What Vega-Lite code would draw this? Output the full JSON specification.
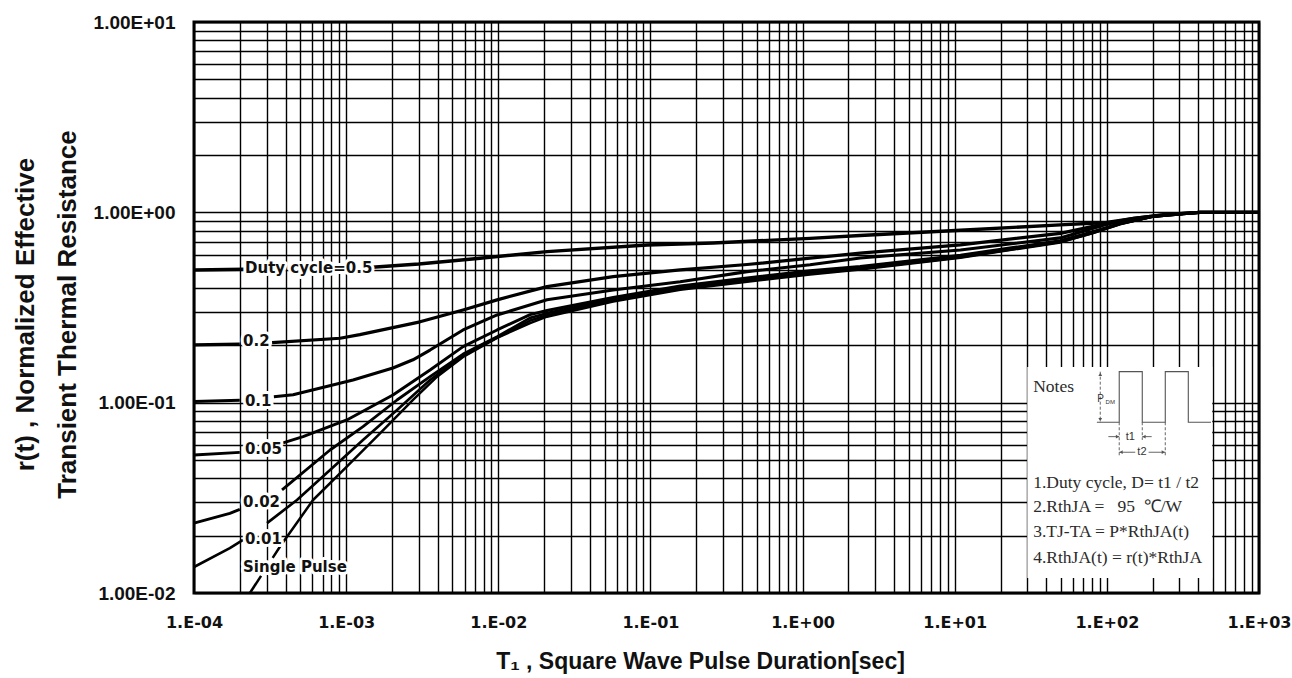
{
  "$schema": "https://vega.github.io/schema/vega-lite/v6.json",
  "width": 1065,
  "height": 571,
  "autosize": {"type": "none"},
  "padding": {"left": 194, "top": 22, "right": 33, "bottom": 85},
  "background": "white",
  "config": {"view": {"stroke": "black", "strokeWidth": 3}},
  "datasets": {
    "curves": [
      {"c": "0.5", "s": "0.5a", "t": 0.0001, "r": 0.498},
      {"c": "0.5", "s": "0.5a", "t": 0.000216, "r": 0.502},
      {"c": "0.5", "s": "0.5b", "t": 0.00148, "r": 0.515},
      {"c": "0.5", "s": "0.5b", "t": 0.003, "r": 0.535},
      {"c": "0.5", "s": "0.5b", "t": 0.00759, "r": 0.574},
      {"c": "0.5", "s": "0.5b", "t": 0.0209, "r": 0.622},
      {"c": "0.5", "s": "0.5b", "t": 0.0951, "r": 0.674},
      {"c": "0.5", "s": "0.5b", "t": 0.258, "r": 0.69},
      {"c": "0.5", "s": "0.5b", "t": 1.12, "r": 0.73},
      {"c": "0.5", "s": "0.5b", "t": 2.39, "r": 0.755},
      {"c": "0.5", "s": "0.5b", "t": 10.9, "r": 0.805},
      {"c": "0.5", "s": "0.5b", "t": 49.4, "r": 0.859},
      {"c": "0.5", "s": "0.5b", "t": 100, "r": 0.885},
      {"c": "0.5", "s": "0.5b", "t": 150, "r": 0.93},
      {"c": "0.5", "s": "0.5b", "t": 250, "r": 0.975},
      {"c": "0.5", "s": "0.5b", "t": 411, "r": 1.0},
      {"c": "0.5", "s": "0.5b", "t": 1000, "r": 1.0},

      {"c": "0.2", "s": "0.2a", "t": 0.0001, "r": 0.201},
      {"c": "0.2", "s": "0.2a", "t": 0.0002, "r": 0.203},
      {"c": "0.2", "s": "0.2b", "t": 0.000326, "r": 0.207},
      {"c": "0.2", "s": "0.2b", "t": 0.000912, "r": 0.218},
      {"c": "0.2", "s": "0.2b", "t": 0.00123, "r": 0.228},
      {"c": "0.2", "s": "0.2b", "t": 0.00306, "r": 0.266},
      {"c": "0.2", "s": "0.2b", "t": 0.00587, "r": 0.307},
      {"c": "0.2", "s": "0.2b", "t": 0.00982, "r": 0.347},
      {"c": "0.2", "s": "0.2b", "t": 0.0209, "r": 0.407},
      {"c": "0.2", "s": "0.2b", "t": 0.0569, "r": 0.459},
      {"c": "0.2", "s": "0.2b", "t": 0.157, "r": 0.498},
      {"c": "0.2", "s": "0.2b", "t": 0.432, "r": 0.532},
      {"c": "0.2", "s": "0.2b", "t": 1.12, "r": 0.574},
      {"c": "0.2", "s": "0.2b", "t": 2.39, "r": 0.61},
      {"c": "0.2", "s": "0.2b", "t": 10.9, "r": 0.674},
      {"c": "0.2", "s": "0.2b", "t": 49.4, "r": 0.776},
      {"c": "0.2", "s": "0.2b", "t": 100, "r": 0.875},
      {"c": "0.2", "s": "0.2b", "t": 150, "r": 0.93},
      {"c": "0.2", "s": "0.2b", "t": 250, "r": 0.975},
      {"c": "0.2", "s": "0.2b", "t": 411, "r": 1.0},
      {"c": "0.2", "s": "0.2b", "t": 1000, "r": 1.0},

      {"c": "0.1", "s": "0.1a", "t": 0.0001, "r": 0.1015},
      {"c": "0.1", "s": "0.1a", "t": 0.0002, "r": 0.103},
      {"c": "0.1", "s": "0.1b", "t": 0.000335, "r": 0.1075},
      {"c": "0.1", "s": "0.1b", "t": 0.000448, "r": 0.11},
      {"c": "0.1", "s": "0.1b", "t": 0.00111, "r": 0.1316},
      {"c": "0.1", "s": "0.1b", "t": 0.00203, "r": 0.152},
      {"c": "0.1", "s": "0.1b", "t": 0.00275, "r": 0.168},
      {"c": "0.1", "s": "0.1b", "t": 0.00356, "r": 0.189},
      {"c": "0.1", "s": "0.1b", "t": 0.00587, "r": 0.241},
      {"c": "0.1", "s": "0.1b", "t": 0.00982, "r": 0.289},
      {"c": "0.1", "s": "0.1b", "t": 0.0209, "r": 0.347},
      {"c": "0.1", "s": "0.1b", "t": 0.0569, "r": 0.391},
      {"c": "0.1", "s": "0.1b", "t": 0.157, "r": 0.432},
      {"c": "0.1", "s": "0.1b", "t": 0.432, "r": 0.488},
      {"c": "0.1", "s": "0.1b", "t": 1.12, "r": 0.53},
      {"c": "0.1", "s": "0.1b", "t": 2.39, "r": 0.576},
      {"c": "0.1", "s": "0.1b", "t": 10.9, "r": 0.634},
      {"c": "0.1", "s": "0.1b", "t": 49.4, "r": 0.734},
      {"c": "0.1", "s": "0.1b", "t": 100, "r": 0.865},
      {"c": "0.1", "s": "0.1b", "t": 150, "r": 0.925},
      {"c": "0.1", "s": "0.1b", "t": 250, "r": 0.975},
      {"c": "0.1", "s": "0.1b", "t": 411, "r": 1.0},
      {"c": "0.1", "s": "0.1b", "t": 1000, "r": 1.0},

      {"c": "0.05", "s": "0.05a", "t": 0.0001, "r": 0.0531},
      {"c": "0.05", "s": "0.05a", "t": 0.0002, "r": 0.0548},
      {"c": "0.05", "s": "0.05b", "t": 0.000385, "r": 0.0615},
      {"c": "0.05", "s": "0.05b", "t": 0.000521, "r": 0.0663},
      {"c": "0.05", "s": "0.05b", "t": 0.00101, "r": 0.0811},
      {"c": "0.05", "s": "0.05b", "t": 0.00203, "r": 0.1098},
      {"c": "0.05", "s": "0.05b", "t": 0.00356, "r": 0.1485},
      {"c": "0.05", "s": "0.05b", "t": 0.00587, "r": 0.197},
      {"c": "0.05", "s": "0.05b", "t": 0.00982, "r": 0.241},
      {"c": "0.05", "s": "0.05b", "t": 0.0162, "r": 0.29},
      {"c": "0.05", "s": "0.05b", "t": 0.0209, "r": 0.305},
      {"c": "0.05", "s": "0.05b", "t": 0.0569, "r": 0.357},
      {"c": "0.05", "s": "0.05b", "t": 0.157, "r": 0.41},
      {"c": "0.05", "s": "0.05b", "t": 0.432, "r": 0.452},
      {"c": "0.05", "s": "0.05b", "t": 1.12, "r": 0.493},
      {"c": "0.05", "s": "0.05b", "t": 2.39, "r": 0.52},
      {"c": "0.05", "s": "0.05b", "t": 10.9, "r": 0.595},
      {"c": "0.05", "s": "0.05b", "t": 49.4, "r": 0.71},
      {"c": "0.05", "s": "0.05b", "t": 80, "r": 0.79},
      {"c": "0.05", "s": "0.05b", "t": 122, "r": 0.875},
      {"c": "0.05", "s": "0.05b", "t": 200, "r": 0.95},
      {"c": "0.05", "s": "0.05b", "t": 411, "r": 1.0},
      {"c": "0.05", "s": "0.05b", "t": 1000, "r": 1.0},

      {"c": "0.02", "s": "0.02a", "t": 0.0001, "r": 0.0233},
      {"c": "0.02", "s": "0.02a", "t": 0.000172, "r": 0.0262},
      {"c": "0.02", "s": "0.02a", "t": 0.0002, "r": 0.0275},
      {"c": "0.02", "s": "0.02b", "t": 0.000379, "r": 0.0348},
      {"c": "0.02", "s": "0.02b", "t": 0.000784, "r": 0.0564},
      {"c": "0.02", "s": "0.02b", "t": 0.00129, "r": 0.0748},
      {"c": "0.02", "s": "0.02b", "t": 0.00216, "r": 0.1033},
      {"c": "0.02", "s": "0.02b", "t": 0.00356, "r": 0.137},
      {"c": "0.02", "s": "0.02b", "t": 0.00587, "r": 0.18},
      {"c": "0.02", "s": "0.02b", "t": 0.00982, "r": 0.222},
      {"c": "0.02", "s": "0.02b", "t": 0.0162, "r": 0.279},
      {"c": "0.02", "s": "0.02b", "t": 0.0209, "r": 0.295},
      {"c": "0.02", "s": "0.02b", "t": 0.0569, "r": 0.35},
      {"c": "0.02", "s": "0.02b", "t": 0.157, "r": 0.402},
      {"c": "0.02", "s": "0.02b", "t": 0.432, "r": 0.443},
      {"c": "0.02", "s": "0.02b", "t": 1.12, "r": 0.484},
      {"c": "0.02", "s": "0.02b", "t": 2.39, "r": 0.511},
      {"c": "0.02", "s": "0.02b", "t": 10.9, "r": 0.588},
      {"c": "0.02", "s": "0.02b", "t": 49.4, "r": 0.703},
      {"c": "0.02", "s": "0.02b", "t": 80, "r": 0.783},
      {"c": "0.02", "s": "0.02b", "t": 122, "r": 0.872},
      {"c": "0.02", "s": "0.02b", "t": 200, "r": 0.95},
      {"c": "0.02", "s": "0.02b", "t": 411, "r": 1.0},
      {"c": "0.02", "s": "0.02b", "t": 1000, "r": 1.0},

      {"c": "0.01", "s": "0.01a", "t": 0.0001, "r": 0.0137},
      {"c": "0.01", "s": "0.01a", "t": 0.000172, "r": 0.0172},
      {"c": "0.01", "s": "0.01a", "t": 0.00021, "r": 0.019},
      {"c": "0.01", "s": "0.01b", "t": 0.000302, "r": 0.0233},
      {"c": "0.01", "s": "0.01b", "t": 0.000475, "r": 0.0308},
      {"c": "0.01", "s": "0.01b", "t": 0.000784, "r": 0.0443},
      {"c": "0.01", "s": "0.01b", "t": 0.00129, "r": 0.0637},
      {"c": "0.01", "s": "0.01b", "t": 0.00216, "r": 0.0915},
      {"c": "0.01", "s": "0.01b", "t": 0.00356, "r": 0.1316},
      {"c": "0.01", "s": "0.01b", "t": 0.00587, "r": 0.178},
      {"c": "0.01", "s": "0.01b", "t": 0.00982, "r": 0.22},
      {"c": "0.01", "s": "0.01b", "t": 0.0162, "r": 0.27},
      {"c": "0.01", "s": "0.01b", "t": 0.0209, "r": 0.288},
      {"c": "0.01", "s": "0.01b", "t": 0.0569, "r": 0.344},
      {"c": "0.01", "s": "0.01b", "t": 0.157, "r": 0.396},
      {"c": "0.01", "s": "0.01b", "t": 0.432, "r": 0.437},
      {"c": "0.01", "s": "0.01b", "t": 1.12, "r": 0.477},
      {"c": "0.01", "s": "0.01b", "t": 2.39, "r": 0.505},
      {"c": "0.01", "s": "0.01b", "t": 10.9, "r": 0.582},
      {"c": "0.01", "s": "0.01b", "t": 49.4, "r": 0.698},
      {"c": "0.01", "s": "0.01b", "t": 80, "r": 0.777},
      {"c": "0.01", "s": "0.01b", "t": 122, "r": 0.868},
      {"c": "0.01", "s": "0.01b", "t": 200, "r": 0.95},
      {"c": "0.01", "s": "0.01b", "t": 411, "r": 1.0},
      {"c": "0.01", "s": "0.01b", "t": 1000, "r": 1.0},

      {"c": "SP", "s": "SPa", "t": 0.000233, "r": 0.01},
      {"c": "SP", "s": "SPa", "t": 0.000276, "r": 0.0123},
      {"c": "SP", "s": "SPb", "t": 0.000329, "r": 0.0153},
      {"c": "SP", "s": "SPb", "t": 0.000367, "r": 0.0175},
      {"c": "SP", "s": "SPb", "t": 0.000606, "r": 0.0308},
      {"c": "SP", "s": "SPb", "t": 0.00101, "r": 0.0461},
      {"c": "SP", "s": "SPb", "t": 0.00167, "r": 0.069},
      {"c": "SP", "s": "SPb", "t": 0.00275, "r": 0.1033},
      {"c": "SP", "s": "SPb", "t": 0.00396, "r": 0.137},
      {"c": "SP", "s": "SPb", "t": 0.00587, "r": 0.174},
      {"c": "SP", "s": "SPb", "t": 0.00982, "r": 0.219},
      {"c": "SP", "s": "SPb", "t": 0.0162, "r": 0.262},
      {"c": "SP", "s": "SPb", "t": 0.0209, "r": 0.283},
      {"c": "SP", "s": "SPb", "t": 0.0569, "r": 0.34},
      {"c": "SP", "s": "SPb", "t": 0.157, "r": 0.392},
      {"c": "SP", "s": "SPb", "t": 0.432, "r": 0.432},
      {"c": "SP", "s": "SPb", "t": 1.12, "r": 0.472},
      {"c": "SP", "s": "SPb", "t": 2.39, "r": 0.5},
      {"c": "SP", "s": "SPb", "t": 10.9, "r": 0.578},
      {"c": "SP", "s": "SPb", "t": 49.4, "r": 0.695},
      {"c": "SP", "s": "SPb", "t": 80, "r": 0.775},
      {"c": "SP", "s": "SPb", "t": 122, "r": 0.866},
      {"c": "SP", "s": "SPb", "t": 200, "r": 0.95},
      {"c": "SP", "s": "SPb", "t": 411, "r": 1.0},
      {"c": "SP", "s": "SPb", "t": 1000, "r": 1.0}
    ],
    "labels": [
      {"t": 0.0002164, "r": 0.51, "text": "Duty cycle=0.5"},
      {"t": 0.00021, "r": 0.211, "text": "0.2"},
      {"t": 0.000216, "r": 0.102, "text": "0.1"},
      {"t": 0.000216, "r": 0.0571, "text": "0.05"},
      {"t": 0.00021, "r": 0.0301, "text": "0.02"},
      {"t": 0.000216, "r": 0.0192, "text": "0.01"},
      {"t": 0.00021, "r": 0.0137, "text": "Single Pulse"}
    ],
    "notes": [
      {"t": 32.8, "r": 0.1214, "text": "Notes"},
      {"t": 32.8, "r": 0.0377, "text": "1.Duty cycle, D= t1 / t2"},
      {"t": 32.8, "r": 0.0284, "text": "2.RthJA =\u00a0\u00a0\u00a095\u00a0\u00a0℃/W"},
      {"t": 32.8, "r": 0.021, "text": "3.TJ-TA = P*RthJA(t)"},
      {"t": 32.8, "r": 0.0152, "text": "4.RthJA(t) = r(t)*RthJA"}
    ]
  },
  "layer": [
    {
      "data": {"name": "curves"},
      "mark": {"type": "line", "color": "black", "strokeJoin": "round"},
      "encoding": {
        "x": {
          "field": "t", "type": "quantitative",
          "scale": {"type": "log", "domain": [0.0001, 1000], "nice": false},
          "axis": {
            "values": [0.0001,0.0002,0.0003,0.0004,0.0005,0.0006,0.0007,0.0008,0.0009,
                       0.001,0.002,0.003,0.004,0.005,0.006,0.007,0.008,0.009,
                       0.01,0.02,0.03,0.04,0.05,0.06,0.07,0.08,0.09,
                       0.1,0.2,0.3,0.4,0.5,0.6,0.7,0.8,0.9,
                       1,2,3,4,5,6,7,8,9,
                       10,20,30,40,50,60,70,80,90,
                       100,200,300,400,500,600,700,800,900,1000],
            "grid": true, "gridColor": "black", "gridWidth": 1.4, "gridOpacity": 1,
            "ticks": false, "domain": false,
            "labelExpr": "abs(log(datum.value)/LN10 - round(log(datum.value)/LN10)) < 0.01 ? '1.E' + (round(log(datum.value)/LN10) < 0 ? '-' : '+') + '0' + abs(round(log(datum.value)/LN10)) : ''",
            "labelFont": "DejaVu Sans", "labelFontWeight": "bold", "labelFontSize": 16,
            "labelColor": "#111", "labelPadding": 21, "labelOverlap": false, "labelFlush": false,
            "title": "T₁ , Square Wave Pulse Duration[sec]",
            "titleFont": "Liberation Sans", "titleFontWeight": "bold", "titleFontSize": 23,
            "titleColor": "#111", "titleX": 506, "titleY": 68, "titleBaseline": "middle", "titleAlign": "center"
          }
        },
        "y": {
          "field": "r", "type": "quantitative",
          "scale": {"type": "log", "domain": [0.01, 10], "nice": false},
          "axis": {
            "values": [0.01,0.02,0.03,0.04,0.05,0.06,0.07,0.08,0.09,
                       0.1,0.2,0.3,0.4,0.5,0.6,0.7,0.8,0.9,
                       1,2,3,4,5,6,7,8,9,10],
            "grid": true, "gridColor": "black", "gridWidth": 1.4, "gridOpacity": 1,
            "ticks": false, "domain": false,
            "labelExpr": "abs(log(datum.value)/LN10 - round(log(datum.value)/LN10)) < 0.01 ? '1.00E' + (round(log(datum.value)/LN10) < 0 ? '-' : '+') + '0' + abs(round(log(datum.value)/LN10)) : ''",
            "labelFont": "Liberation Sans", "labelFontWeight": "bold", "labelFontSize": 19,
            "labelColor": "#111", "labelPadding": 19, "labelOverlap": false, "labelFlush": false,
            "title": ["r(t) , Normalized Effective", "Transient Thermal Resistance"],
            "titleFont": "Liberation Sans", "titleFontWeight": "bold", "titleFontSize": 26,
            "titleColor": "#111", "titleLineHeight": 42, "titleAngle": -90,
            "titleX": -169, "titleY": 292, "titleBaseline": "middle", "titleAlign": "center"
          }
        },
        "detail": {"field": "s"},
        "strokeWidth": {
          "field": "c", "type": "ordinal",
          "scale": {"domain": ["0.5","0.2","0.1","0.05","0.02","0.01","SP"], "range": [3.4, 2.5, 2.3, 2.1, 2.1, 2.1, 2.1]},
          "legend": null
        }
      }
    },
    {
      "data": {"values": [{"t": 30, "t2": 493, "r": 0.154, "r2": 0.012}]},
      "mark": {"type": "rect", "fill": "white"},
      "encoding": {
        "x": {"field": "t", "type": "quantitative"},
        "x2": {"field": "t2"},
        "y": {"field": "r", "type": "quantitative"},
        "y2": {"field": "r2"}
      }
    },
    {
      "data": {"values": [
        {"i": 0, "t": 86, "r": 0.0789},
        {"i": 1, "t": 120.6, "r": 0.0789},
        {"i": 2, "t": 120.6, "r": 0.1455},
        {"i": 3, "t": 170.9, "r": 0.1455},
        {"i": 4, "t": 170.9, "r": 0.0789},
        {"i": 5, "t": 242.1, "r": 0.0789},
        {"i": 6, "t": 242.1, "r": 0.1455},
        {"i": 7, "t": 343, "r": 0.1455},
        {"i": 8, "t": 343, "r": 0.0789},
        {"i": 9, "t": 483.6, "r": 0.0789}
      ]},
      "mark": {"type": "line", "color": "#555", "strokeWidth": 1.1},
      "encoding": {
        "x": {"field": "t", "type": "quantitative"},
        "y": {"field": "r", "type": "quantitative"},
        "order": {"field": "i", "type": "quantitative"}
      }
    },
    {
      "data": {"values": [
        {"t": 90.5, "r": 0.1455, "r2": 0.0789},
        {"t": 120.6, "r": 0.0789, "r2": 0.0518},
        {"t": 170.9, "r": 0.0789, "r2": 0.0637},
        {"t": 242.1, "r": 0.0789, "r2": 0.0518}
      ]},
      "mark": {"type": "rule", "color": "#555", "strokeWidth": 0.9, "strokeDash": [3, 2]},
      "encoding": {
        "x": {"field": "t", "type": "quantitative"},
        "y": {"field": "r", "type": "quantitative"},
        "y2": {"field": "r2"}
      }
    },
    {
      "data": {"values": [
        {"t": 102.3, "t2": 120.6, "r": 0.0663},
        {"t": 170.9, "t2": 197.1, "r": 0.0663},
        {"t": 120.6, "t2": 153.7, "r": 0.0549},
        {"t": 188.1, "t2": 242.1, "r": 0.0549}
      ]},
      "mark": {"type": "rule", "color": "#555", "strokeWidth": 0.9},
      "encoding": {
        "x": {"field": "t", "type": "quantitative"},
        "x2": {"field": "t2"},
        "y": {"field": "r", "type": "quantitative"}
      }
    },
    {
      "data": {"values": [
        {"t": 90.5, "r": 0.141, "d": "up"},
        {"t": 90.5, "r": 0.0815, "d": "down"},
        {"t": 117.5, "r": 0.0663, "d": "right"},
        {"t": 175.5, "r": 0.0663, "d": "left"},
        {"t": 124, "r": 0.0549, "d": "left"},
        {"t": 235, "r": 0.0549, "d": "right"}
      ]},
      "mark": {"type": "point", "filled": true, "color": "#555", "size": 14, "opacity": 1},
      "encoding": {
        "x": {"field": "t", "type": "quantitative"},
        "y": {"field": "r", "type": "quantitative"},
        "shape": {
          "field": "d", "type": "nominal",
          "scale": {"domain": ["up", "down", "left", "right"], "range": ["triangle-up", "triangle-down", "triangle-left", "triangle-right"]},
          "legend": null
        }
      }
    },
    {
      "data": {"values": [{"t": 90.8, "r": 0.1042, "text": "P"}]},
      "mark": {"type": "text", "align": "center", "baseline": "middle", "font": "Liberation Sans", "fontSize": 10, "fill": "#333"},
      "encoding": {
        "x": {"field": "t", "type": "quantitative"},
        "y": {"field": "r", "type": "quantitative"},
        "text": {"field": "text"}
      }
    },
    {
      "data": {"values": [{"t": 105.3, "r": 0.1005, "text": "DM"}]},
      "mark": {"type": "text", "align": "center", "baseline": "middle", "font": "Liberation Sans", "fontSize": 6, "fill": "#333"},
      "encoding": {
        "x": {"field": "t", "type": "quantitative"},
        "y": {"field": "r", "type": "quantitative"},
        "text": {"field": "text"}
      }
    },
    {
      "data": {"values": [
        {"t": 142.5, "r": 0.0663, "text": "t1"},
        {"t": 170.1, "r": 0.0549, "text": "t2"}
      ]},
      "mark": {"type": "text", "align": "center", "baseline": "middle", "font": "Liberation Sans", "fontSize": 11, "fill": "#333"},
      "encoding": {
        "x": {"field": "t", "type": "quantitative"},
        "y": {"field": "r", "type": "quantitative"},
        "text": {"field": "text"}
      }
    },
    {
      "data": {"name": "notes"},
      "mark": {"type": "text", "align": "left", "baseline": "middle", "font": "Liberation Serif", "fontSize": 17.5, "fill": "#2b2b2b"},
      "encoding": {
        "x": {"field": "t", "type": "quantitative"},
        "y": {"field": "r", "type": "quantitative"},
        "text": {"field": "text"}
      }
    },
    {
      "data": {"name": "labels"},
      "mark": {"type": "text", "align": "left", "baseline": "middle", "font": "DejaVu Sans", "fontWeight": "bold", "fontSize": 15, "fill": "white", "stroke": "white", "strokeWidth": 6, "strokeJoin": "round"},
      "encoding": {
        "x": {"field": "t", "type": "quantitative"},
        "y": {"field": "r", "type": "quantitative"},
        "text": {"field": "text"}
      }
    },
    {
      "data": {"name": "labels"},
      "mark": {"type": "text", "align": "left", "baseline": "middle", "font": "DejaVu Sans", "fontWeight": "bold", "fontSize": 15, "fill": "#111"},
      "encoding": {
        "x": {"field": "t", "type": "quantitative"},
        "y": {"field": "r", "type": "quantitative"},
        "text": {"field": "text"}
      }
    }
  ]
}
